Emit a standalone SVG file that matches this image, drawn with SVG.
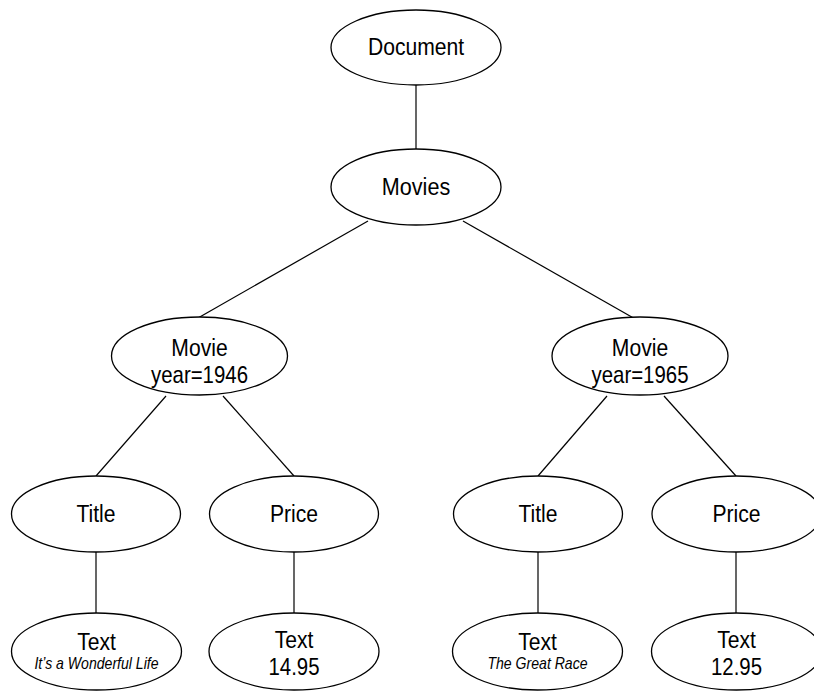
<svg xmlns="http://www.w3.org/2000/svg" width="814" height="692" viewBox="0 0 814 692">
<style>
  .n ellipse { fill: #fff; stroke: #000; stroke-width: 1.3; }
  .e line { stroke: #000; stroke-width: 1.2; }
  text { font-family: "Liberation Sans", Arial, sans-serif; font-size: 24px; fill: #000; text-anchor: middle; }
  text.s { font-size: 16px; font-style: italic; }
</style>
<rect width="814" height="692" fill="#fff"/>
<g id="edges" class="e">
  <line x1="416" y1="85" x2="416" y2="149"/>
  <line x1="368" y1="221" x2="198" y2="318"/>
  <line x1="463" y1="221" x2="637" y2="320"/>
  <line x1="166" y1="396" x2="96" y2="476"/>
  <line x1="223" y1="396" x2="294" y2="476"/>
  <line x1="607" y1="396" x2="538" y2="476"/>
  <line x1="664" y1="396" x2="736" y2="476"/>
  <line x1="96" y1="552" x2="96" y2="613"/>
  <line x1="294" y1="552" x2="294" y2="613"/>
  <line x1="538" y1="552" x2="538" y2="613"/>
  <line x1="736" y1="552" x2="736" y2="613"/>
</g>
<g id="document" class="n">
  <ellipse cx="416" cy="47.5" rx="85" ry="37.5"/>
  <text transform="translate(416,55) scale(0.88,1)">Document</text>
</g>
<g id="movies" class="n">
  <ellipse cx="416" cy="187" rx="85" ry="38"/>
  <text transform="translate(416,195) scale(0.9,1)">Movies</text>
</g>
<g id="movie1946" class="n">
  <ellipse cx="199.5" cy="356" rx="88" ry="39"/>
  <text transform="translate(199.5,356) scale(0.88,1)">Movie</text>
  <text transform="translate(199.5,383) scale(0.85,1)">year=1946</text>
</g>
<g id="movie1965" class="n">
  <ellipse cx="640" cy="356" rx="88" ry="39"/>
  <text transform="translate(640,356) scale(0.88,1)">Movie</text>
  <text transform="translate(640,383) scale(0.85,1)">year=1965</text>
</g>
<g id="title1" class="n">
  <ellipse cx="96" cy="514" rx="84.5" ry="38"/>
  <text transform="translate(96,522) scale(0.88,1)">Title</text>
</g>
<g id="price1" class="n">
  <ellipse cx="294" cy="514" rx="84.5" ry="38"/>
  <text transform="translate(294,522) scale(0.88,1)">Price</text>
</g>
<g id="title2" class="n">
  <ellipse cx="538" cy="514" rx="84.5" ry="38"/>
  <text transform="translate(538,522) scale(0.88,1)">Title</text>
</g>
<g id="price2" class="n">
  <ellipse cx="736.5" cy="514" rx="84.5" ry="38"/>
  <text transform="translate(736.5,522) scale(0.88,1)">Price</text>
</g>
<g id="text1" class="n">
  <ellipse cx="96.5" cy="651.5" rx="85" ry="38.5"/>
  <text transform="translate(96.5,650) scale(0.88,1)">Text</text>
  <text class="s" transform="translate(96.5,669) scale(0.88,1)">It’s a Wonderful Life</text>
</g>
<g id="text2" class="n">
  <ellipse cx="294" cy="651.5" rx="85" ry="38.5"/>
  <text transform="translate(294,648) scale(0.88,1)">Text</text>
  <text transform="translate(294,675) scale(0.85,1)">14.95</text>
</g>
<g id="text3" class="n">
  <ellipse cx="537.5" cy="651.5" rx="85" ry="38.5"/>
  <text transform="translate(537.5,650) scale(0.88,1)">Text</text>
  <text class="s" transform="translate(537.5,669) scale(0.88,1)">The Great Race</text>
</g>
<g id="text4" class="n">
  <ellipse cx="736.5" cy="651.5" rx="85" ry="38.5"/>
  <text transform="translate(736.5,648) scale(0.88,1)">Text</text>
  <text transform="translate(736.5,675) scale(0.85,1)">12.95</text>
</g>
</svg>
